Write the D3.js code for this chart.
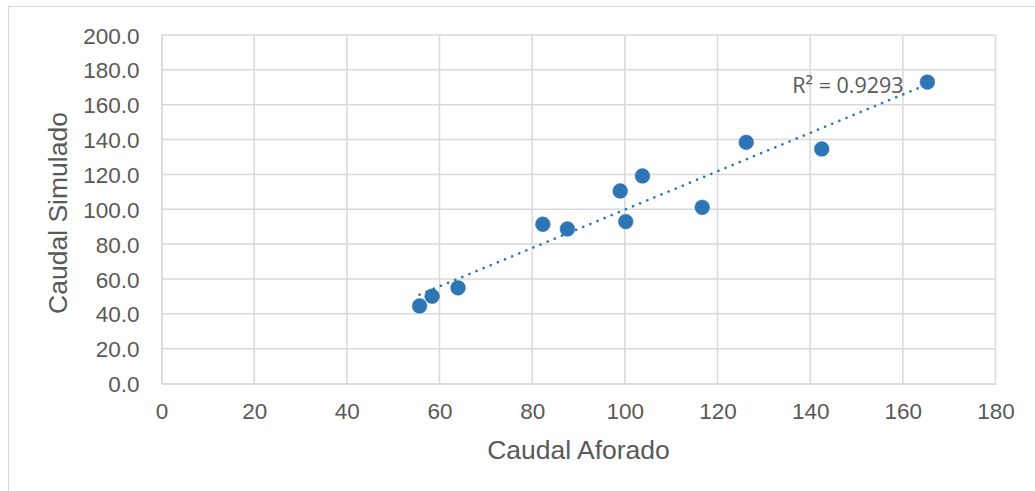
<!DOCTYPE html>
<html>
<head>
<meta charset="utf-8">
<script src="https://cdn.jsdelivr.net/npm/d3@7"></script>
<style>
  html, body { margin: 0; padding: 0; background: #fff; }
  svg { display: block; }
</style>
</head>
<body>
<svg id="chart" width="1035" height="491"></svg>
<script>
// Observed vs simulated flow
const caudalAforado  = [55.7, 58.4, 64.0, 82.3, 87.6, 99.0, 100.2, 103.8, 116.7, 126.2, 142.5, 165.3];
const caudalSimulado = [44.5, 50.1, 54.9, 91.4, 88.7, 110.5, 92.9, 119.1, 101.1, 138.4, 134.6, 173.0];
const xTicks = [0, 20, 40, 60, 80, 100, 120, 140, 160, 180];
const yTicks = [0, 20, 40, 60, 80, 100, 120, 140, 160, 180, 200];
const r2Label = "R² = 0.9293";

const svg = d3.select("#chart");
const plot = { left: 161.5, right: 995.5, top: 35, bottom: 383.5 };

const x = d3.scaleLinear().domain([0, 180]).range([plot.left, plot.right]);
const y = d3.scaleLinear().domain([0, 200]).range([plot.bottom, plot.top]);

// chart border
svg.append("rect")
  .attr("x", 8.5).attr("y", 6.5)
  .attr("width", 1040).attr("height", 500)
  .attr("fill", "none").attr("stroke", "#D9D9D9").attr("stroke-width", 1.2);

const textColor = "#595959";
const font = "'Liberation Sans', Arial, sans-serif";

// gridlines
const grid = svg.append("g");
grid.selectAll("line.h").data(yTicks.slice(1)).join("line")
  .attr("x1", plot.left).attr("x2", plot.right)
  .attr("y1", d => y(d)).attr("y2", d => y(d))
  .attr("stroke", "#D9D9D9").attr("stroke-width", 1.5);
grid.selectAll("line.v").data(xTicks.slice(1)).join("line")
  .attr("y1", plot.top).attr("y2", plot.bottom)
  .attr("x1", d => x(d)).attr("x2", d => x(d))
  .attr("stroke", "#D9D9D9").attr("stroke-width", 1.5);

// axes
const xAxis = svg.append("g")
  .attr("transform", `translate(0,${plot.bottom})`)
  .call(d3.axisBottom(x).tickValues(xTicks).tickSize(0).tickPadding(19.5).tickFormat(d3.format("d")));
const yAxis = svg.append("g")
  .attr("transform", `translate(${plot.left},0)`)
  .call(d3.axisLeft(y).tickValues(yTicks).tickSize(0).tickPadding(22).tickFormat(d3.format(".1f")));
[xAxis, yAxis].forEach(a => {
  a.select(".domain").attr("stroke", "#D0D0D0").attr("stroke-width", 1.5);
  a.selectAll("text").attr("fill", textColor).style("font-family", font).style("font-size", "22.5px");
});
yAxis.selectAll("text").attr("dy", "0.36em");

// linear trendline (least squares)
const n = caudalAforado.length;
const mx = d3.mean(caudalAforado), my = d3.mean(caudalSimulado);
let sxy = 0, sxx = 0;
for (let i = 0; i < n; i++) {
  sxy += (caudalAforado[i] - mx) * (caudalSimulado[i] - my);
  sxx += (caudalAforado[i] - mx) ** 2;
}
const slope = sxy / sxx, intercept = my - slope * mx;
const [xmin, xmax] = d3.extent(caudalAforado);
svg.append("line")
  .attr("x1", x(xmin)).attr("y1", y(intercept + slope * xmin))
  .attr("x2", x(xmax)).attr("y2", y(intercept + slope * xmax))
  .attr("stroke", "#2E75B6").attr("stroke-width", 2.6)
  .attr("stroke-linecap", "round").attr("stroke-dasharray", "0.1 7.6");

// points
svg.append("g").selectAll("circle")
  .data(caudalAforado.map((v, i) => [v, caudalSimulado[i]]))
  .join("circle")
  .attr("cx", d => x(d[0])).attr("cy", d => y(d[1]))
  .attr("r", 7.4)
  .attr("fill", "#2E75B6").attr("stroke", "#2E75B6").attr("stroke-width", 0.5);

// R² label
svg.append("text")
  .attr("x", 848).attr("y", 93)
  .attr("text-anchor", "middle")
  .attr("fill", textColor)
  .style("font-family", "'Open Sans', 'Noto Sans', sans-serif")
  .style("font-size", "21.5px")
  .text(r2Label);

// axis titles
svg.append("text")
  .attr("x", (plot.left + plot.right) / 2).attr("y", 459)
  .attr("text-anchor", "middle").attr("fill", textColor)
  .style("font-family", font).style("font-size", "26.5px")
  .text("Caudal Aforado");
svg.append("text")
  .attr("transform", `translate(67,213) rotate(-90)`)
  .attr("text-anchor", "middle").attr("fill", textColor)
  .style("font-family", font).style("font-size", "26.5px")
  .text("Caudal Simulado");
</script>
</body>
</html>
